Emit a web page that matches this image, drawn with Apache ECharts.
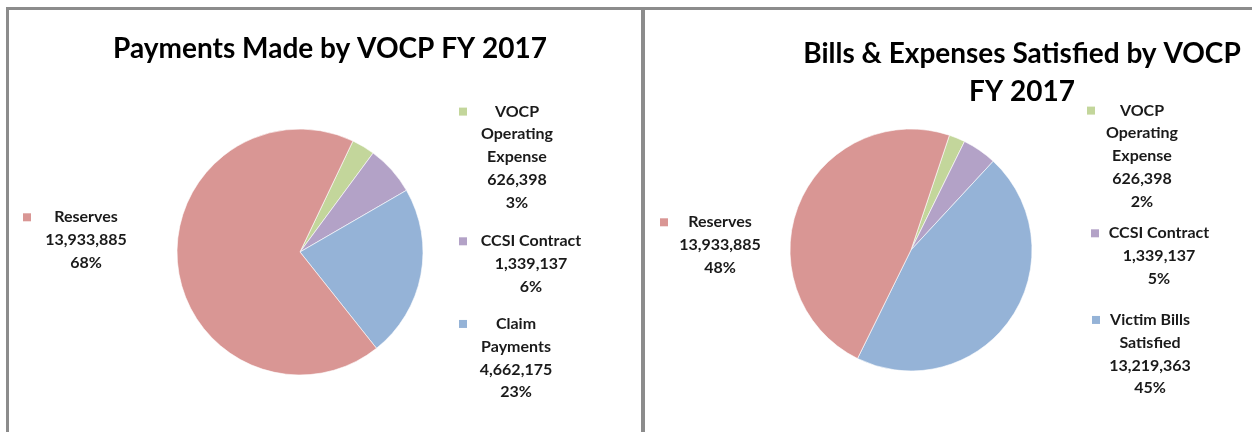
<!DOCTYPE html>
<html>
<head>
<meta charset="utf-8">
<script src="https://cdn.jsdelivr.net/npm/echarts@6/dist/echarts.min.js"></script>
<style>
  html, body { margin: 0; padding: 0; background: #fff; }
  #wrap { position: relative; width: 1252px; height: 432px; overflow: hidden; }
  .panel { position: absolute; top: 7px; height: 440px; border: 3px solid #8c8c8c; box-sizing: border-box; }
  #p1 { left: 6px; width: 638px; }
  #p2 { left: 642px; width: 620px; }
  #main { position: absolute; left: 0; top: 0; width: 1252px; height: 432px; }
</style>
</head>
<body>
<div id="wrap">
  <div class="panel" id="p1"></div>
  <div class="panel" id="p2"></div>
  <div id="main"></div>
</div>
<script>
// order is clockwise from the first slice
let leftNames = ['VOCP\nOperating\nExpense', 'CCSI Contract', 'Claim\nPayments', 'Reserves'];
let leftValues = [626398, 1339137, 4662175, 13933885];
let leftPct = ['3%', '6%', '23%', '68%'];

let rightNames = ['VOCP\nOperating\nExpense', 'CCSI Contract', 'Victim Bills\nSatisfied', 'Reserves'];
let rightValues = [626398, 1339137, 13219363, 13933885];
let rightPct = ['2%', '5%', '45%', '48%'];

let colors = ['#C3D69B', '#B3A2C7', '#95B3D7', '#D99694'];

// label boxes: center x, middle y, width
let leftBoxes = [[517, 157, 116], [531, 264, 144], [516, 358, 114], [86, 240, 126]];
let rightBoxes = [[1142, 156, 110], [1159, 256, 136], [1150, 354, 116], [720, 245, 120]];

let myChart = echarts.init(document.getElementById('main'));

function fmtNum(v) {
  return v.toLocaleString('en-US');
}

function makeLabel(pct) {
  return function (p) {
    let lines = p.name.split('\n');
    let s = '{k' + p.dataIndex + '|}{t|' + lines[0] + '}{s|}';
    for (let i = 1; i < lines.length; i++) {
      s += '\n{t|' + lines[i] + '}';
    }
    s += '\n{t|' + fmtNum(p.value) + '}';
    s += '\n{t|' + pct[p.dataIndex] + '}';
    return s;
  };
}

let rich = {
  t: { fontFamily: 'Lato', fontWeight: 'bold', fontSize: 16, color: '#1a1a1a', lineHeight: 22.7, align: 'center' },
  s: { width: 8, height: 8, align: 'right' }
};
colors.forEach((c, i) => {
  rich['k' + i] = { width: 8, height: 8, backgroundColor: c, align: 'left' };
});

function makeSeries(names, values, pct, boxes, center, radius, startAngle) {
  return {
    type: 'pie',
    center: center,
    radius: radius,
    startAngle: startAngle,
    clockwise: true,
    silent: true,
    animation: false,
    data: names.map((n, i) => ({ name: n, value: values[i], itemStyle: { color: colors[i] } })),
    itemStyle: { borderColor: '#fff', borderWidth: 0.6 },
    label: {
      show: true,
      position: 'inside',
      color: '#1a1a1a',
      formatter: makeLabel(pct),
      rich: rich
    },
    labelLine: { show: false },
    labelLayout: function (params) {
      let b = boxes[params.dataIndex];
      return { x: b[0], y: b[1], align: 'center', verticalAlign: 'middle', width: b[2] };
    }
  };
}

let titleStyle = { fontFamily: 'Lato', fontWeight: 'bold', fontSize: 28, color: '#000', lineHeight: 38 };

let option = {
  title: [
    { text: 'Payments Made by VOCP FY 2017', left: 325, top: 25, textAlign: 'center', textStyle: titleStyle },
    { text: 'Bills & Expenses Satisfied by VOCP\nFY 2017', left: 1017, top: 30, textAlign: 'center', textStyle: titleStyle }
  ],
  series: [
    makeSeries(leftNames, leftValues, leftPct, leftBoxes, [300, 252], 123, 64.5),
    makeSeries(rightNames, rightValues, rightPct, rightBoxes, [911, 250], 121, 71.5)
  ]
};

myChart.setOption(option);
</script>
</body>
</html>
